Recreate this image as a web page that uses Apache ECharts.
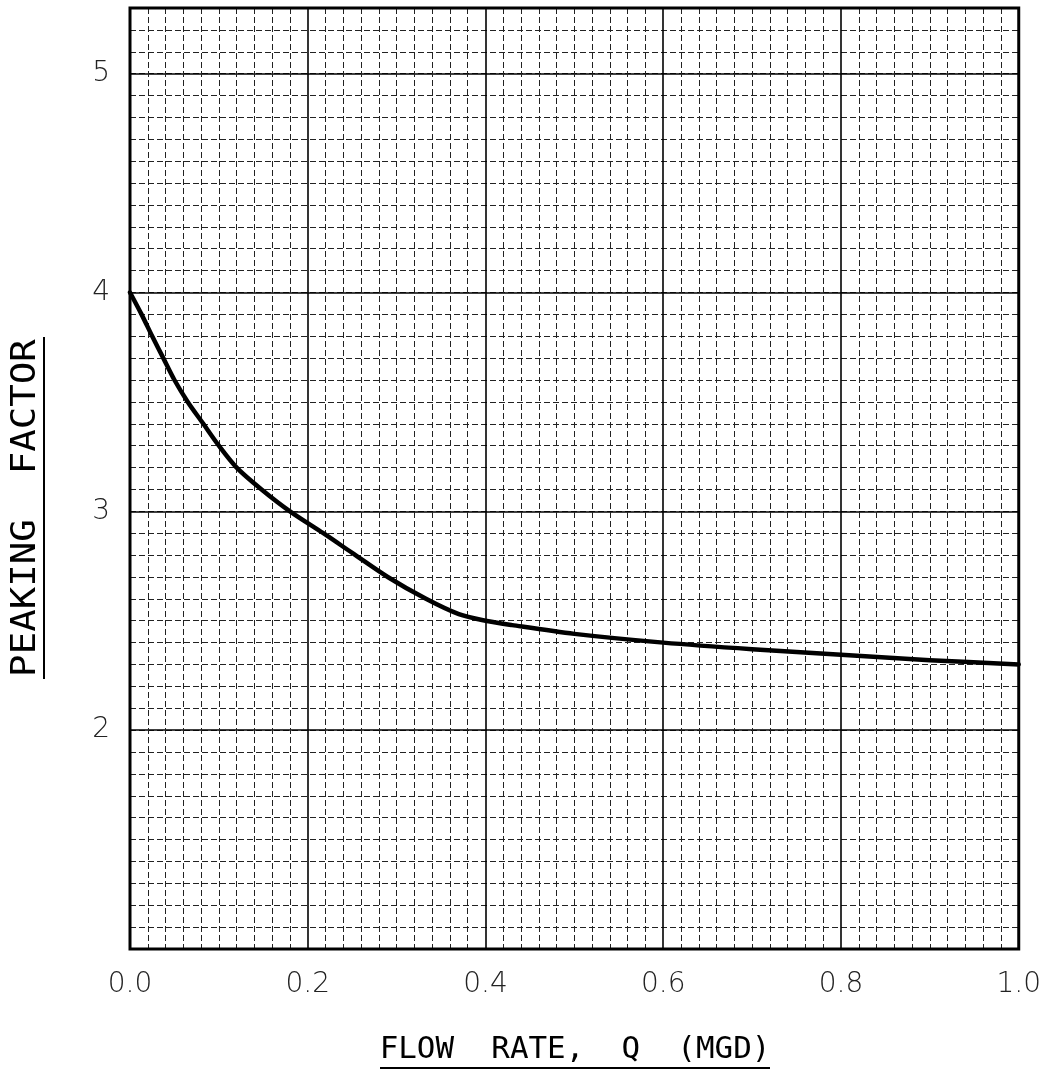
<!DOCTYPE html>
<html>
<head>
<meta charset="utf-8">
<script src="https://cdn.jsdelivr.net/npm/echarts@6/dist/echarts.min.js"></script>
<style>html,body{margin:0;padding:0;background:#fff;}#c{width:1044px;height:1077px;}</style>
</head>
<body>
<div id="c"></div>
<script>
// Data
const flowRate = [0, 0.013, 0.025, 0.0375, 0.05, 0.065, 0.0825, 0.10, 0.12, 0.148, 0.18, 0.2175, 0.25, 0.29, 0.333, 0.37, 0.40, 0.43, 0.50, 0.60, 0.70, 0.80, 0.90, 1.00];
const peakingFactor = [4.00, 3.90, 3.80, 3.70, 3.60, 3.50, 3.40, 3.30, 3.20, 3.10, 3.00, 2.90, 2.81, 2.70, 2.60, 2.53, 2.50, 2.48, 2.44, 2.40, 2.37, 2.345, 2.32, 2.30];
const xTickLabels = ['0.0', '0.2', '0.4', '0.6', '0.8', '1.0'];
const yTickLabels = ['2', '3', '4', '5'];
const xTitle = 'FLOW  RATE,  Q  (MGD)';
const yTitle = 'PEAKING  FACTOR';

const chart = echarts.init(document.getElementById('c'));
const labelFont = { fontFamily: 'DejaVu Sans', fontWeight: 200, fontSize: 28, color: '#222' };
const dashed = { color: '#222', width: 1, type: [6, 3] };
const solid = { color: '#000', width: 1.6, type: 'solid' };

const pts = flowRate.map((x, i) => [x, peakingFactor[i]]);

chart.setOption({
  animation: false,
  backgroundColor: '#fff',
  grid: { left: 130, right: 25, top: 8, bottom: 128, show: true, borderColor: '#000', borderWidth: 3, backgroundColor: 'transparent', z: 10 },
  xAxis: [{
    type: 'value', min: 0, max: 1, interval: 0.2,
    axisLine: { show: false }, axisTick: { show: false },
    minorTick: { show: false, splitNumber: 10 },
    minorSplitLine: { show: true, lineStyle: dashed },
    splitLine: { show: true, lineStyle: solid },
    axisLabel: Object.assign({ margin: 22, formatter: v => {
      const s = v.toFixed(1); return xTickLabels.indexOf(s) >= 0 ? s : '';
    } }, labelFont)
  }],
  yAxis: [{
    type: 'value', min: 1, max: 5.3, interval: 0.1,
    axisLine: { show: false }, axisTick: { show: false }, axisLabel: { show: false },
    splitLine: { show: true, lineStyle: dashed }
  }, {
    type: 'value', min: 1, max: 5.3, interval: 1, position: 'left',
    axisLine: { show: false }, axisTick: { show: false },
    splitLine: { show: true, lineStyle: solid },
    axisLabel: Object.assign({ margin: 20, formatter: v => {
      const s = String(Math.round(v * 10) / 10); return yTickLabels.indexOf(s) >= 0 ? s : '';
    } }, labelFont)
  }],
  series: [{
    type: 'line', data: pts, xAxisIndex: 0, yAxisIndex: 1,
    smooth: 0.3, showSymbol: false, symbol: 'none',
    lineStyle: { color: '#000', width: 4.5, join: 'round', cap: 'round' }, z: 5
  }],
  graphic: [{
    type: 'group', x: 575, y: 1050,
    children: [
      { type: 'text', style: { text: xTitle, fontFamily: 'DejaVu Sans Mono', fontSize: 30, fill: '#000', textAlign: 'center', textVerticalAlign: 'middle', align: 'center', verticalAlign: 'middle' }, scaleX: 1.03 },
      { type: 'line', shape: { x1: -195, y1: 18, x2: 195, y2: 18 }, style: { stroke: '#000', lineWidth: 2 } }
    ]
  }, {
    type: 'group', x: 26, y: 508, rotation: Math.PI / 2,
    children: [
      { type: 'text', style: { text: yTitle, fontFamily: 'DejaVu Sans Mono', fontSize: 34, fill: '#000', textAlign: 'center', textVerticalAlign: 'middle', align: 'center', verticalAlign: 'middle' }, scaleX: 1.1 },
      { type: 'line', shape: { x1: -171, y1: 18, x2: 171, y2: 18 }, style: { stroke: '#000', lineWidth: 2 } }
    ]
  }]
});
</script>
</body>
</html>
